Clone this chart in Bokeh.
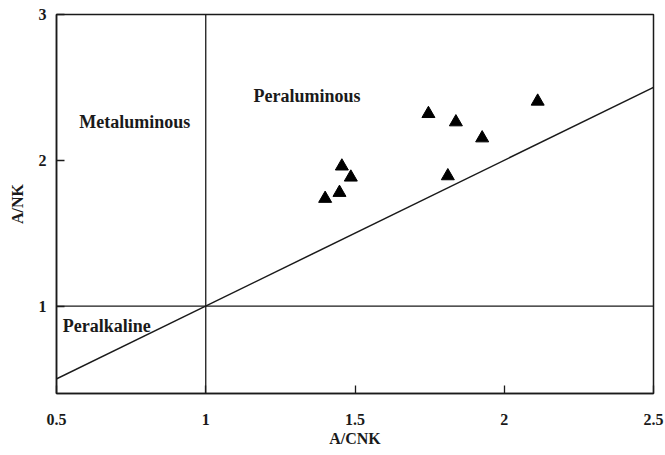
from bokeh.plotting import figure
from bokeh.models import Range1d, FixedTicker, ColumnDataSource
from bokeh.core.properties import value
from bokeh.embed import file_html
from bokeh.resources import INLINE

# Sample data (A/CNK, A/NK)
acnk = [1.40, 1.448, 1.456, 1.486, 1.746, 1.811, 1.838, 1.926, 2.112]
ank = [1.737, 1.778, 1.959, 1.883, 2.319, 1.892, 2.262, 2.152, 2.404]

# Boundary lines
vline_x = [1.0, 1.0]
vline_y = [0.4, 3.0]
hline_x = [0.5, 2.5]
hline_y = [1.0, 1.0]
diag_x = [0.49, 2.5]
diag_y = [0.49, 2.5]

# Ticks
x_ticks = [0.5, 1.0, 1.5, 2.0, 2.5]
x_tick_labels = ["0.5", "1", "1.5", "2", "2.5"]
y_ticks = [1.0, 2.0, 3.0]
y_tick_labels = ["1", "2", "3"]

# Region labels
region_names = ["Metaluminous", "Peraluminous", "Peralkaline"]
region_x = [0.762, 1.339, 0.668]
region_y = [2.264, 2.44, 0.86]

FONT = "Liberation Serif"
INK = "#1a1a1a"

p = figure(width=665, height=455, x_range=Range1d(0.5, 2.5), y_range=Range1d(0.4, 3.0),
           output_backend="svg", toolbar_location=None,
           min_border_left=56, min_border_right=12, min_border_top=14, min_border_bottom=62)
p.background_fill_color = "white"
p.border_fill_color = "white"
p.xgrid.visible = False
p.ygrid.visible = False
p.outline_line_color = INK
p.outline_line_width = 1.5

for ax, ticks, labels in ((p.xaxis[0], x_ticks, x_tick_labels), (p.yaxis[0], y_ticks, y_tick_labels)):
    ax.ticker = FixedTicker(ticks=ticks)
    ax.major_label_overrides = {t: l for t, l in zip(ticks, labels)}
    ax.major_tick_in = 8
    ax.major_tick_out = 0
    ax.minor_tick_line_color = None
    ax.axis_line_color = INK
    ax.axis_line_width = 1.5
    ax.major_tick_line_color = INK
    ax.major_tick_line_width = 1.3
    ax.major_label_text_font = FONT
    ax.major_label_text_font_style = "bold"
    ax.major_label_text_font_size = "16px"
    ax.major_label_text_color = INK
    ax.axis_label_text_font = FONT
    ax.axis_label_text_font_style = "bold"
    ax.axis_label_text_font_size = "16px"
    ax.axis_label_text_color = INK

p.xaxis.axis_label = "A/CNK"
p.yaxis.axis_label = "A/NK"
p.xaxis.major_label_standoff = 20
p.xaxis.axis_label_standoff = 2
p.yaxis.major_label_standoff = 10
p.yaxis.axis_label_standoff = 10

p.line(vline_x, vline_y, line_color=INK, line_width=1.3)
p.line(hline_x, hline_y, line_color=INK, line_width=1.3)
p.line(diag_x, diag_y, line_color=INK, line_width=1.5)

src = ColumnDataSource(dict(x=acnk, y=ank))
p.scatter("x", "y", source=src, marker="triangle", size=13, fill_color="black", line_color="black")

lsrc = ColumnDataSource(dict(x=region_x, y=region_y, t=region_names))
p.text("x", "y", text="t", source=lsrc, text_font=value(FONT), text_font_style="bold",
       text_font_size="18px", text_align="center", text_baseline="alphabetic", text_color=INK)

open("out.html", "w").write(file_html(p, INLINE))
